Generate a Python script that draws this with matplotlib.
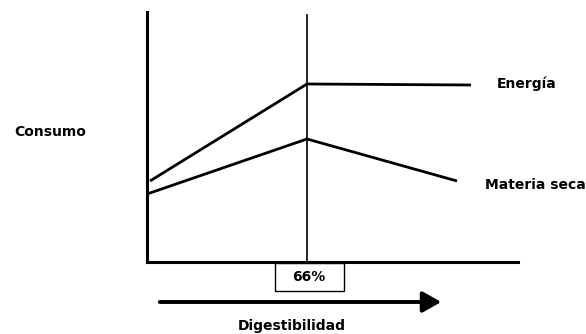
import matplotlib.pyplot as plt
from matplotlib.patches import Rectangle, FancyArrowPatch

# datos (unidades arbitrarias, origen en el cruce de los ejes)
dig = [0, 160, 324]
energia = [81, 178, 177]
dig_ms = [0, 160, 310]
materia_seca = [68, 123, 81]
dig_optimo = 160
etiqueta_optimo = "66%"

W, H = 586, 334
fig = plt.figure(figsize=(W / 100, H / 100), dpi=100)
plt.rcParams['font.family'] = ['DejaVu Sans']

x0, y0, x1, y1 = 147, 262, 518, 12
ax = fig.add_axes([x0 / W, 1 - y0 / H, (x1 - x0) / W, (y0 - y1) / H])
ax.set_xlim(0, x1 - x0)
ax.set_ylim(0, y0 - y1)
for s in ['top', 'right']:
    ax.spines[s].set_visible(False)
for s in ['left', 'bottom']:
    ax.spines[s].set_linewidth(2.2)
ax.set_xticks([])
ax.set_yticks([])

ax.plot([3] + dig[1:], energia, color='black', lw=2.0, solid_capstyle='butt')
ax.plot(dig_ms, materia_seca, color='black', lw=2.0, solid_capstyle='butt')
ax.plot([dig_optimo, dig_optimo], [0, 247], color='black', lw=1.2)

def fx(px):
    return px / W

def fy(py):
    return 1 - py / H

kw = dict(fontsize=10, fontweight='bold', color='black')
fig.text(fx(50), fy(132), "Consumo", ha='center', va='center', **kw)
fig.text(fx(497), fy(84), "Energía", ha='left', va='center', **kw)
fig.text(fx(485), fy(185), "Materia seca", ha='left', va='center', **kw)
fig.text(fx(309), fy(277), etiqueta_optimo, ha='center', va='center', **kw)
fig.text(fx(292), fy(326), "Digestibilidad", ha='center', va='center', **kw)

fig.add_artist(Rectangle((fx(275), fy(291)), (344 - 275) / W, (291 - 263) / H,
                         transform=fig.transFigure, fill=False, lw=1.0,
                         edgecolor='black'))

fig.add_artist(FancyArrowPatch((fx(157), fy(302)), (fx(444), fy(302)),
                               transform=fig.transFigure,
                               arrowstyle='-|>,head_length=0.8,head_width=0.45',
                               mutation_scale=14, lw=2.8, color='black'))

fig.savefig("out.png", dpi=100)
